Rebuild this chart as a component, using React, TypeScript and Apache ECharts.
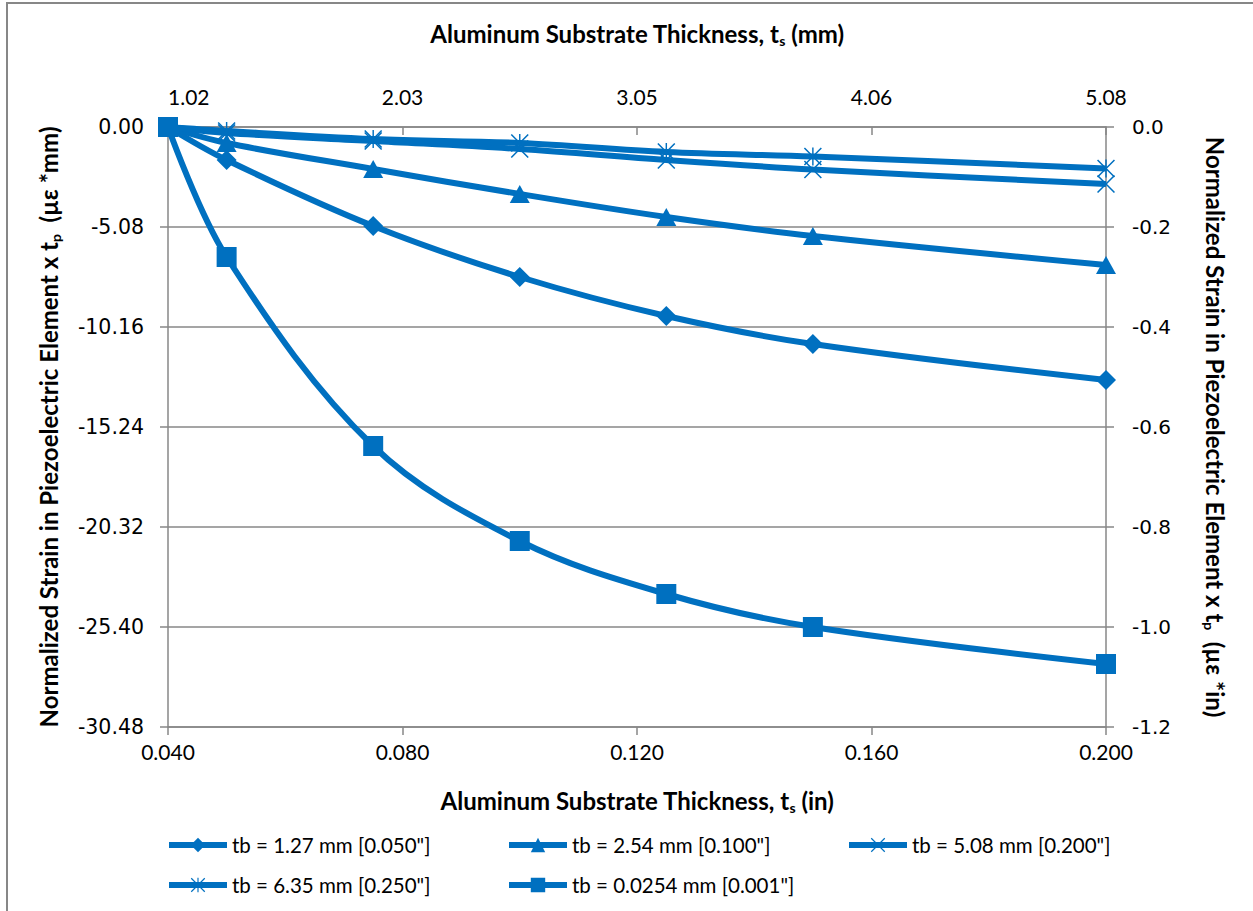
import React, { useEffect, useRef } from "react";
import * as echarts from "echarts";

const xInches = [0.04, 0.05, 0.075, 0.1, 0.125, 0.15, 0.2];
const seriesNames = [
  'tb = 1.27 mm [0.050"]',
  'tb = 2.54 mm [0.100"]',
  'tb = 5.08 mm [0.200"]',
  'tb = 6.35 mm [0.250"]',
  'tb = 0.0254 mm [0.001"]',
];
const tb127 = [0, -0.066, -0.198, -0.3, -0.378, -0.434, -0.506];
const tb254 = [0, -0.032, -0.084, -0.134, -0.18, -0.218, -0.276];
const tb508 = [0, -0.012, -0.028, -0.044, -0.066, -0.085, -0.114];
const tb635 = [0, -0.008, -0.024, -0.032, -0.05, -0.059, -0.083];
const tb00254 = [0, -0.26, -0.638, -0.828, -0.934, -1.0, -1.074];

const BLUE = "#0070C0";
const GRAY = "#878787";
const TICK_FONT = "Lato, 'Noto Sans', sans-serif";
const Y_FONT = "'DejaVu Sans', Verdana, sans-serif";

const X_PATH =
  "path://M0 6 L6 0 L100 94 L94 100 Z M94 0 L100 6 L6 100 L0 94 Z";
const STAR_PATH =
  "path://M0 6 L6 0 L100 94 L94 100 Z M94 0 L100 6 L6 100 L0 94 Z M46 0 L54 0 L54 100 L46 100 Z";

export default function App() {
  const ref = useRef<HTMLDivElement>(null);
  useEffect(() => {
    if (!ref.current) return;
    const chart = echarts.init(ref.current, undefined, { renderer: "svg" });
    const mk = (name: string, vals: number[], symbol: string, size: number | number[]) => ({
      name,
      type: "line",
      xAxisIndex: 0,
      yAxisIndex: 1,
      data: xInches.map((x, i) => [x, vals[i]]),
      smooth: 0.35,
      symbol,
      symbolSize: size,
      showAllSymbol: true,
      lineStyle: { color: BLUE, width: 6 },
      itemStyle: { color: BLUE },
      emphasis: { disabled: true },
    });
    const titleRich = {
      b: { fontFamily: TICK_FONT, fontWeight: "bold", fontSize: 24, color: "#000" },
      s: { fontFamily: TICK_FONT, fontWeight: "bold", fontSize: 14, color: "#000", padding: [13, 0, 0, 0] },
    };
    chart.setOption({
      animation: false,
      backgroundColor: "#fff",
      grid: { left: 168, right: 147, top: 127, bottom: 184, containLabel: false },
      graphic: [
        { type: "line", shape: { x1: 6, y1: 3, x2: 1253, y2: 3 }, style: { stroke: GRAY, lineWidth: 2 } },
        { type: "line", shape: { x1: 7, y1: 2, x2: 7, y2: 911 }, style: { stroke: GRAY, lineWidth: 2 } },
      ],
      xAxis: [
        {
          type: "value",
          position: "bottom",
          min: 0.04,
          max: 0.2,
          interval: 0.04,
          axisLine: { show: true, onZero: false, lineStyle: { color: GRAY, width: 1.5 } },
          axisTick: { show: true, inside: false, length: 8, lineStyle: { color: GRAY, width: 1.5 } },
          splitLine: { show: false },
          axisLabel: {
            formatter: (v: number) => v.toFixed(3),
            fontFamily: TICK_FONT,
            fontSize: 21,
            color: "#000",
            margin: 14,
          },
          name: "{b|Aluminum Substrate Thickness, t}{s|s}{b| (in)}",
          nameLocation: "middle",
          nameGap: 60,
          nameTextStyle: { rich: titleRich },
        },
        {
          type: "value",
          position: "top",
          min: 1.016,
          max: 5.08,
          interval: 1.016,
          axisLine: { show: true, onZero: false, lineStyle: { color: GRAY, width: 1.5 } },
          axisTick: { show: true, inside: true, length: 8, lineStyle: { color: GRAY, width: 1.5 } },
          splitLine: { show: false },
          axisLabel: {
            formatter: (v: number) => v.toFixed(2),
            fontFamily: TICK_FONT,
            fontSize: 21,
            color: "#000",
            margin: 20,
            alignMinLabel: "left",
          },
          name: "{b|Aluminum Substrate Thickness, t}{s|s}{b| (mm)}",
          nameLocation: "middle",
          nameGap: 80,
          nameTextStyle: { rich: titleRich },
        },
      ],
      yAxis: [
        {
          type: "value",
          position: "left",
          min: -30.48,
          max: 0,
          interval: 5.08,
          axisLine: { show: true, onZero: false, lineStyle: { color: GRAY, width: 1.5 } },
          axisTick: { show: true, inside: false, length: 8, lineStyle: { color: GRAY, width: 1.5 } },
          splitLine: { show: true, lineStyle: { color: GRAY, width: 1.5 } },
          axisLabel: {
            formatter: (v: number) => v.toFixed(2),
            fontFamily: Y_FONT,
            fontSize: 20.5,
            color: "#000",
            margin: 24,
          },
          name: "{b|Normalized Strain in Piezoelectric Element x t}{s|p}{b|  (µε *mm)}",
          nameLocation: "middle",
          nameRotate: 90,
          nameGap: 106,
          nameTextStyle: { rich: titleRich },
        },
        {
          type: "value",
          position: "right",
          min: -1.2,
          max: 0,
          interval: 0.2,
          axisLine: { show: true, onZero: false, lineStyle: { color: GRAY, width: 1.5 } },
          axisTick: { show: true, inside: false, length: 8, lineStyle: { color: GRAY, width: 1.5 } },
          splitLine: { show: false },
          axisLabel: {
            formatter: (v: number) => v.toFixed(1),
            fontFamily: Y_FONT,
            fontSize: 20,
            color: "#000",
            margin: 26,
          },
          name: "{b|Normalized Strain in Piezoelectric Element x t}{s|p}{b|  (µε *in)}",
          nameLocation: "middle",
          nameRotate: -90,
          nameGap: 96,
          nameTextStyle: { rich: titleRich },
        },
      ],
      legend: {
        left: 161,
        top: 828,
        width: 1070,
        orient: "horizontal",
        itemWidth: 58,
        itemHeight: 18,
        itemGap: 16,
        data: seriesNames,
        lineStyle: { width: 6 },
        textStyle: {
          fontFamily: TICK_FONT,
          fontSize: 20.5,
          color: "#000",
          width: 258,
          lineHeight: 24,
        },
      },
      series: [
        mk(seriesNames[0], tb127, "diamond", 20),
        mk(seriesNames[1], tb254, "triangle", [20, 18]),
        mk(seriesNames[2], tb508, X_PATH, 18),
        mk(seriesNames[3], tb635, STAR_PATH, 18),
        mk(seriesNames[4], tb00254, "rect", 20),
      ],
    });
    return () => chart.dispose();
  }, []);
  return (
    <div
      ref={ref}
      style={{ position: "absolute", left: 0, top: 0, width: 1253, height: 911 }}
    />
  );
}
